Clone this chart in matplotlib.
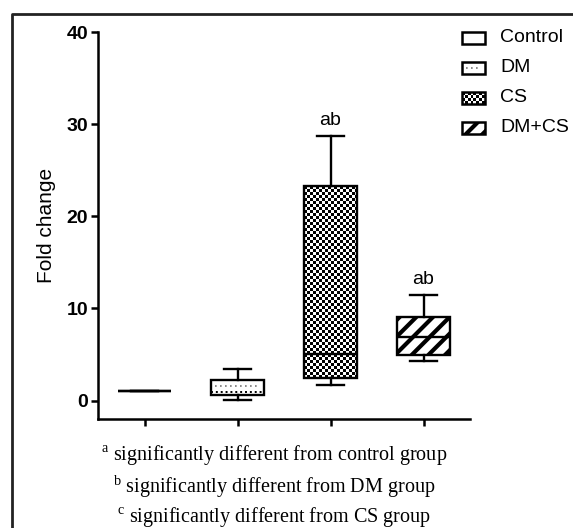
import numpy as np
import matplotlib.pyplot as plt
from matplotlib.patches import Rectangle
from matplotlib.lines import Line2D

# box statistics
groups = ["Control", "DM", "CS", "DM+CS"]
whis_lo = [1.0, 0.1, 1.7, 4.25]
q1 = [1.0, 0.57, 2.5, 5.0]
med = [1.0, 0.95, 5.1, 6.9]
q3 = [1.0, 2.25, 23.3, 9.1]
whis_hi = [1.0, 3.45, 28.7, 11.5]
sig = ["", "", "ab", "ab"]
yticks = [0, 10, 20, 30, 40]
notes = [("a", "significantly different from control group"),
         ("b", "significantly different from DM group"),
         ("c", "significantly different from CS group")]

plt.rcParams['font.family'] = ['Liberation Sans', 'DejaVu Sans']
plt.rcParams['mathtext.fontset'] = 'custom'
plt.rcParams['mathtext.rm'] = 'Liberation Serif'
plt.rcParams['hatch.linewidth'] = 3.0

W, H = 573, 528
fig = plt.figure(figsize=(W / 100, H / 100), dpi=100)
ax = fig.add_axes([98 / W, 1 - 419 / H, (470 - 98) / W, (419 - 32) / H])

pos = np.arange(1, len(groups) + 1)
stats = []
for i, g in enumerate(groups):
    stats.append(dict(label=g, whislo=whis_lo[i], q1=q1[i], med=med[i],
                      q3=q3[i], whishi=whis_hi[i], fliers=[]))

bw = 0.58
bp = ax.bxp(stats, positions=pos, widths=bw, capwidths=0.28,
            patch_artist=True, showfliers=False,
            boxprops=dict(linewidth=1.7, edgecolor='black'),
            whiskerprops=dict(linewidth=1.7, color='black'),
            capprops=dict(linewidth=1.7, color='black'),
            medianprops=dict(linewidth=1.7, color='black'))

hatches = [None, None, None, '//']
for i, box in enumerate(bp['boxes']):
    box.set_facecolor('white')
    if hatches[i]:
        box.set_hatch(hatches[i])

# DM: fine dotted pattern
bp['medians'][1].set_linestyle((0, (1, 1.5)))
bp['medians'][1].set_linewidth(1.4)
ax.hlines((med[1] + q3[1]) / 2, pos[1] - bw / 2 + 0.05, pos[1] + bw / 2 - 0.05,
          color='#777777', linewidth=1.2, linestyles=(0, (1, 2)))

ax.set_xlim(0.5, 4.5)
ax.set_ylim(-2, 40)
ax.set_yticks(yticks)
ax.set_xticks(pos)
ax.set_xticklabels([])
ax.spines['top'].set_visible(False)
ax.spines['right'].set_visible(False)
ax.spines['left'].set_bounds(-2, 40)
for s in ('left', 'bottom'):
    ax.spines[s].set_linewidth(1.8)
ax.tick_params(width=1.8, length=5, pad=2)
for lab in ax.get_yticklabels():
    lab.set_fontweight('bold')
    lab.set_fontsize(14)
ax.set_ylabel("Fold change", fontsize=15, labelpad=8)

# checkerboard fill for the CS box
fig.canvas.draw()
box = bp['boxes'][2]
box.set_facecolor('none')
p0 = ax.transData.transform((pos[2] - bw / 2, q1[2]))
p1 = ax.transData.transform((pos[2] + bw / 2, q3[2]))
nx = int(round((p1[0] - p0[0]) / 3))
ny = int(round((p1[1] - p0[1]) / 3))
checker = np.indices((ny, nx)).sum(axis=0) % 2
im = ax.imshow(checker, cmap='gray', extent=(pos[2] - bw / 2, pos[2] + bw / 2, q1[2], q3[2]),
               aspect='auto', interpolation='nearest', zorder=1.5)
im.set_clip_path(box)

for i, s in enumerate(sig):
    if s:
        ax.annotate(s, (pos[i], whis_hi[i]), xytext=(0, 5), textcoords='offset points',
                    ha='center', va='bottom', fontsize=14)

# legend drawn by hand in pixel coords
leg_y = [38, 68, 98, 128]
for i, g in enumerate(groups):
    yc = leg_y[i]
    x0, y0 = 462 / W, 1 - (yc + 6) / H
    rect = Rectangle((x0, y0), 23 / W, 12 / H, transform=fig.transFigure,
                     facecolor='white', edgecolor='black', linewidth=1.8)
    if hatches[i]:
        rect.set_hatch(hatches[i])
    if g == "CS":
        rect.set_facecolor('none')
        lax = fig.add_axes([x0, y0, 23 / W, 12 / H])
        lax.imshow(np.indices((4, 8)).sum(axis=0) % 2, cmap='gray', aspect='auto',
                   interpolation='nearest')
        lax.axis('off')
    if g == "DM":
        fig.add_artist(Line2D([466 / W, 481 / W], [1 - yc / H, 1 - yc / H], transform=fig.transFigure,
                              color='#777777', linewidth=1.2, linestyle=(0, (1, 2))))
    fig.patches.append(rect)
    fig.text(500 / W, 1 - yc / H, g, fontsize=14, va='center', ha='left')

# footnotes
note_y = [455, 487, 517]
for (sup, txt), yy in zip(notes, note_y):
    fig.text(274 / W, 1 - yy / H, r"$^{\mathrm{" + sup + "}}$ " + txt, family='Liberation Serif',
             fontsize=14.5, ha='center', va='center')

# outer frame (open on the right and bottom)
fig.add_artist(Line2D([12 / W, 12 / W, 1], [0, 1 - 14 / H, 1 - 14 / H], transform=fig.transFigure,
                      color='#222222', linewidth=2))

fig.savefig('out.png', dpi=100)
